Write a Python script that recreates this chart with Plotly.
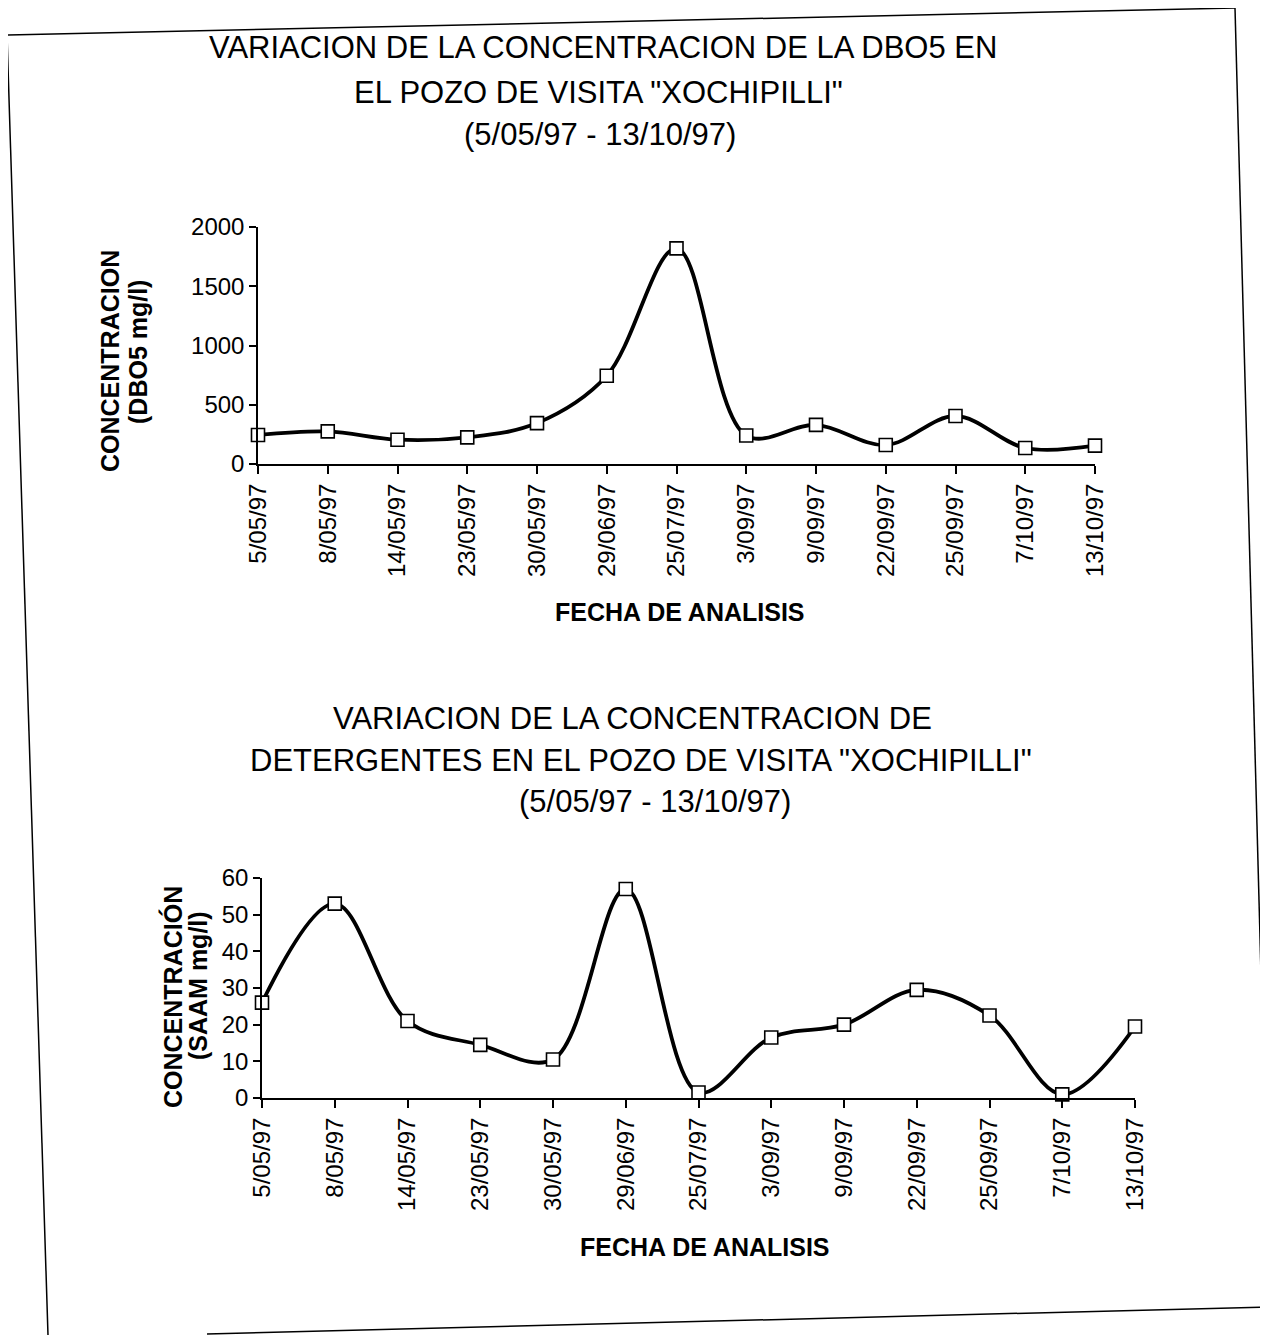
import plotly.graph_objects as go

# page body margin of the browser is 8px, so the figure is drawn 8px smaller and shifted
OFF = 8
W, H = 1268 - OFF, 1335 - OFF

fechas = ["5/05/97", "8/05/97", "14/05/97", "23/05/97", "30/05/97", "29/06/97",
          "25/07/97", "3/09/97", "9/09/97", "22/09/97", "25/09/97", "7/10/97", "13/10/97"]
dbo5 = [245, 275, 205, 225, 345, 745, 1820, 240, 330, 160, 405, 135, 155]
detergentes = [26, 53, 21, 14.5, 10.5, 57, 1.5, 16.5, 20, 29.5, 22.5, 1, 19.5]
dbo5_ticks = [0, 500, 1000, 1500, 2000]
det_ticks = [0, 10, 20, 30, 40, 50, 60]

FONT = "Liberation Sans, Arial, sans-serif"
xi = list(range(len(fechas)))


def px(x):
    return (x - OFF) / W


def py(y):
    return 1 - (y - OFF) / H


fig = go.Figure()

common = dict(
    mode="lines+markers",
    line=dict(color="black", width=3.8, shape="spline", smoothing=1.0),
    marker=dict(symbol="square", size=13, color="white", line=dict(color="black", width=1.6)),
    cliponaxis=False,
    showlegend=False,
)
fig.add_trace(go.Scatter(x=xi, y=dbo5, xaxis="x", yaxis="y", **common))
fig.add_trace(go.Scatter(x=xi, y=detergentes, xaxis="x2", yaxis="y2", **common))

xcommon = dict(
    tickmode="array", tickvals=xi, ticktext=fechas, tickangle=-90, automargin=False,
    showline=True, linecolor="black", linewidth=2, ticks="outside", ticklen=8,
    tickcolor="black", tickwidth=1.5, showgrid=False, zeroline=False,
    tickfont=dict(family=FONT, size=24, color="black"), range=[0, len(fechas) - 1],
)
ycommon = dict(
    showline=True, linecolor="black", linewidth=1.5, ticks="outside", ticklen=7,
    tickcolor="black", tickwidth=1.5, showgrid=False, zeroline=False, automargin=False,
    tickfont=dict(family=FONT, size=24, color="black"), tickmode="array",
)

fig.update_layout(
    template="none",
    width=W, height=H,
    margin=dict(l=0, r=0, t=0, b=0, pad=0, autoexpand=False),
    paper_bgcolor="white", plot_bgcolor="white",
    xaxis=dict(domain=[px(258), px(1095)], anchor="y", **xcommon),
    yaxis=dict(domain=[py(464), py(227)], anchor="x", range=[0, 2000],
               tickvals=dbo5_ticks, ticktext=[str(v) for v in dbo5_ticks], **ycommon),
    xaxis2=dict(domain=[px(262), px(1135)], anchor="y2", **xcommon),
    yaxis2=dict(domain=[py(1098), py(878)], anchor="x2", range=[0, 60],
                tickvals=det_ticks, ticktext=[str(v) for v in det_ticks], **ycommon),
)

ann = []


def text(x, y, s, size, bold=False, angle=0):
    ann.append(dict(
        x=px(x), y=py(y), xref="paper", yref="paper", xanchor="center", yanchor="middle",
        text=f"<b>{s}</b>" if bold else s, showarrow=False, textangle=angle,
        font=dict(family=FONT, size=size, color="black"),
    ))


# titles
text(603, 48, "VARIACION DE LA CONCENTRACION DE LA DBO5 EN", 31)
text(598, 92, "EL POZO DE VISITA \"XOCHIPILLI\"", 31)
text(600, 134, "(5/05/97 - 13/10/97)", 31)
text(632, 718, "VARIACION DE LA CONCENTRACION DE", 31)
text(641, 760, "DETERGENTES EN EL POZO DE VISITA \"XOCHIPILLI\"", 31)
text(655, 801, "(5/05/97 - 13/10/97)", 31)

# axis titles
text(680, 612, "FECHA DE ANALISIS", 25, bold=True)
text(705, 1247, "FECHA DE ANALISIS", 25, bold=True)
text(110, 361, "CONCENTRACION", 25, bold=True, angle=-90)
text(138, 352, "(DBO5 mg/l)", 25, bold=True, angle=-90)
text(172, 997, "CONCENTRACIÓN", 25, bold=True, angle=-90)
text(198, 986, "(SAAM mg/l)", 25, bold=True, angle=-90)

fig.update_layout(annotations=ann)

# page frame (scanned page border)
frame = [((7, 35), (1235, 8)), ((7, 35), (48, 1335)), ((1235, 8), (1266, 1160)),
         ((207, 1334), (1268, 1307))]
for (x0, y0), (x1, y1) in frame:
    fig.add_shape(type="line", xref="paper", yref="paper", x0=px(x0), y0=py(y0),
                  x1=px(x1), y1=py(y1), line=dict(color="black", width=1.5))

fig.write_html("out.html")
